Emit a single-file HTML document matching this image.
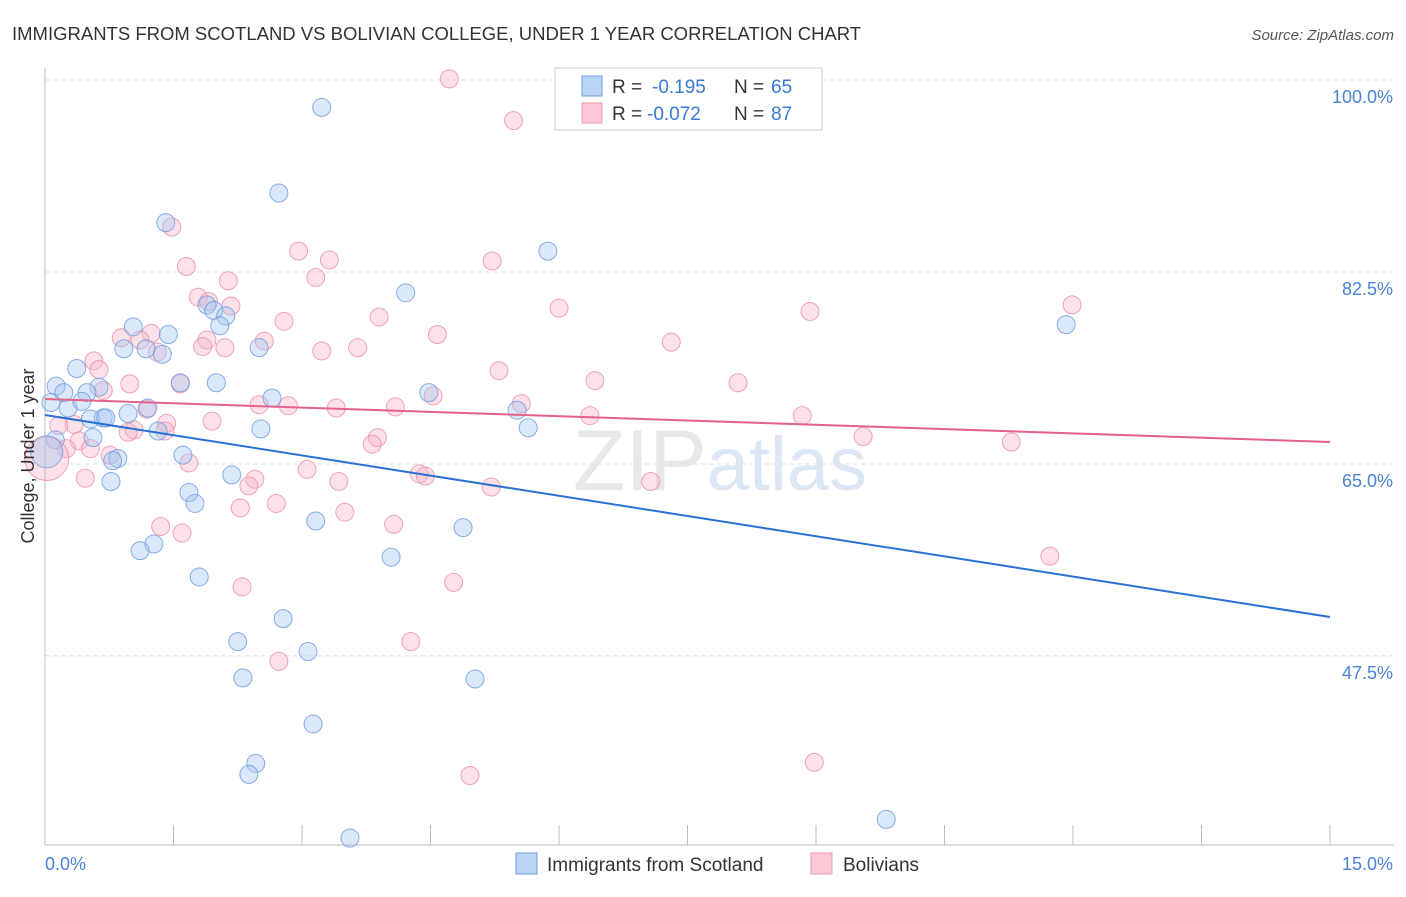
<!DOCTYPE html>
<html><head><meta charset="utf-8"><style>
body{margin:0;background:#fff;font-family:"Liberation Sans",sans-serif}
svg text{font-family:"Liberation Sans",sans-serif}
</style></head><body>
<svg id="chart" width="1406" height="892" xmlns="http://www.w3.org/2000/svg">
<text x="12" y="40" font-size="18.5" fill="#333">IMMIGRANTS FROM SCOTLAND VS BOLIVIAN COLLEGE, UNDER 1 YEAR CORRELATION CHART</text>
<text x="1394" y="40" font-size="15" fill="#555" text-anchor="end" font-style="italic">Source: ZipAtlas.com</text>
<text x="720" y="490" font-size="86" text-anchor="middle" fill="#e8e8e8" font-family="Liberation Serif">ZIP<tspan fill="#dce7f5" font-family="Liberation Sans" font-size="76">atlas</tspan></text>
<g id="grid"></g>
<g id="axes"></g>
<g id="points"></g>
<g id="trends"></g>
<text transform="translate(34,456) rotate(-90)" font-size="18" fill="#333" text-anchor="middle">College, Under 1 year</text>
<g>
<rect x="555" y="68" width="267" height="62" fill="#fff" stroke="#ccc"/>
<rect x="582" y="76" width="20" height="20" fill="#bcd4f4" stroke="#6b9be0"/>
<rect x="582" y="103" width="20" height="20" fill="#fbc8d6" stroke="#ec98b0"/>
<text x="612" y="93" font-size="19" fill="#333">R =</text>
<text x="652" y="93" font-size="19" fill="#3a78d8">-0.195</text>
<text x="734" y="93" font-size="19" fill="#333">N =</text>
<text x="771" y="93" font-size="19" fill="#3a78d8">65</text>
<text x="612" y="120" font-size="19" fill="#333">R =</text>
<text x="647" y="120" font-size="19" fill="#3a78d8">-0.072</text>
<text x="734" y="120" font-size="19" fill="#333">N =</text>
<text x="771" y="120" font-size="19" fill="#3a78d8">87</text>
</g>
<g>
<rect x="516" y="853" width="21" height="21" fill="#bcd4f4" stroke="#6b9be0"/>
<text x="547" y="871" font-size="19" fill="#333">Immigrants from Scotland</text>
<rect x="811" y="853" width="21" height="21" fill="#fbc8d6" stroke="#ec98b0"/>
<text x="843" y="871" font-size="19" fill="#333">Bolivians</text>
</g>
</svg>
<script>
const yTicks=[100,82.5,65,47.5];
const yTickLabels=["100.0%","82.5%","65.0%","47.5%"];
const xTickLabels=["0.0%","15.0%"];
const blueX=[3.23,2.73,1.41,5.87,4.21,11.92,1.89,1.97,2.11,2.04,1.03,1.44,0.92,1.18,1.37,2.50,0.37,1.58,2.00,0.13,0.63,0.22,0.49,2.65,4.48,0.07,0.27,0.43,0.68,0.53,0.71,0.97,1.20,5.51,0.56,1.32,2.52,5.64,0.12,0.85,0.79,1.61,0.77,2.18,1.68,1.75,3.16,4.88,1.27,1.11,4.04,1.80,2.78,2.25,3.07,2.31,5.02,3.13,2.46,2.38,3.56,9.82];
const blueY=[97.5,89.7,87.0,84.4,80.6,77.7,79.5,79.0,78.5,77.6,77.5,76.8,75.5,75.5,75.0,75.6,73.7,72.4,72.4,72.1,72.0,71.5,71.5,71.0,71.5,70.6,70.1,70.7,69.2,69.1,69.2,69.6,70.1,69.9,67.4,68.0,68.2,68.3,67.2,65.5,65.3,65.8,63.4,64.0,62.4,61.4,59.8,59.2,57.7,57.1,56.5,54.7,50.9,48.8,47.9,45.5,45.4,41.3,37.7,36.7,30.9,32.6];
const pinkX=[4.72,5.47,1.48,2.96,3.32,5.22,1.65,2.14,3.16,1.79,2.17,1.91,11.99,6.00,8.93,3.90,2.79,4.58,0.89,1.24,1.11,2.56,1.89,1.84,7.31,2.10,3.65,3.23,0.57,0.63,5.30,1.31,6.42,8.09,0.99,1.58,0.68,4.53,5.56,2.50,2.84,3.40,4.09,1.19,6.36,8.84,1.95,1.42,0.34,0.16,1.04,1.40,0.97,3.88,3.82,9.55,11.28,0.40,0.25,0.53,0.76,1.68,3.06,4.37,4.44,0.47,2.45,3.43,2.38,5.21,7.07,2.70,2.28,3.50,4.07,1.35,1.60,11.73,4.77,2.30,4.27,2.73,4.96,8.98];
const pinkY=[100.1,96.3,86.6,84.4,83.6,83.5,83.0,81.7,82.0,80.2,79.4,79.8,79.5,79.2,78.9,78.4,78.0,76.8,76.5,76.9,76.3,76.2,76.3,75.7,76.1,75.6,75.6,75.3,74.4,73.6,73.5,75.2,72.6,72.4,72.3,72.3,71.7,71.2,70.5,70.4,70.3,70.1,70.2,70.0,69.4,69.4,68.9,68.7,68.6,68.5,68.1,68.0,67.9,67.4,66.8,67.5,67.0,67.1,66.4,66.4,65.8,65.1,64.5,64.1,63.9,63.7,63.6,63.4,63.0,62.9,63.4,61.4,61.0,60.6,59.5,59.3,58.7,56.6,54.2,53.8,48.8,47.0,36.6,37.8];
const bigBlue=[0.02,66.1];
const bigPink=[0.02,65.5];
const blueTrend=[69.46,51.05];
const pinkTrend=[70.92,67.0];
const NS="http://www.w3.org/2000/svg";
const X0=45,X1=1330,Y100=80,PXP=10.97;
const sx=v=>X0+(v/15)*(X1-X0);
const sy=v=>Y100+(100-v)*PXP;
function mk(tag,attrs,parent){const e=document.createElementNS(NS,tag);for(const k in attrs)e.setAttribute(k,attrs[k]);parent.appendChild(e);return e;}
const grid=document.getElementById('grid'),axes=document.getElementById('axes'),pts=document.getElementById('points'),tr=document.getElementById('trends');
yTicks.forEach((t,i)=>{
 const l=mk('line',{x1:X0,x2:1394,y1:sy(t),y2:sy(t),stroke:'#ddd','stroke-dasharray':'4,4'},grid);
 
 
 const tx=mk('text',{x:1393,y:sy(t)+23,'font-size':18,fill:'#4a82d8','text-anchor':'end'},grid);
 tx.textContent=yTickLabels[i];
 
 
});
const ax=mk('line',{x1:X0,x2:X0,y1:68,y2:845,stroke:'#bbb'},axes);


const bx=mk('line',{x1:X0,x2:1394,y1:845,y2:845,stroke:'#bbb'},axes);


for(let i=0;i<=10;i++){
 const t=mk('line',{x1:sx(i*1.5),x2:sx(i*1.5),y1:825,y2:845,stroke:'#bbb'},axes);
 
 
}
[[0,'start',45],[15,'end',1393]].forEach((d,i)=>{
 const t=mk('text',{x:d[2],y:870,'font-size':18,fill:'#4a82d8','text-anchor':d[1]},axes);
 t.textContent=xTickLabels[i];
 
 
});
function dot(x,y,r,fill,stroke,name){
 const c=mk('circle',{cx:sx(x),cy:sy(y),r:r,fill:fill,'fill-opacity':0.4,stroke:stroke,'stroke-opacity':0.8,'stroke-width':1},pts);
 
 
}
pinkX.forEach((x,i)=>dot(x,pinkY[i],9,'#f7b3c7','#ea8fa9','bolivian-point'));
blueX.forEach((x,i)=>dot(x,blueY[i],9,'#a6c6f0','#6b9ae0','scotland-point'));
dot(bigPink[0],bigPink[1],22,'#f7b3c7','#ea8fa9','bolivian-point-large');
dot(bigBlue[0],bigBlue[1],16,'#a6c6f0','#6b9ae0','scotland-point-large');
const bl=mk('line',{x1:sx(0),y1:sy(blueTrend[0]),x2:sx(15),y2:sy(blueTrend[1]),stroke:'#2a6fd6','stroke-width':2},tr);


const pl=mk('line',{x1:sx(0),y1:sy(pinkTrend[0]),x2:sx(15),y2:sy(pinkTrend[1]),stroke:'#e4628a','stroke-width':2},tr);


</script>
</body></html>
